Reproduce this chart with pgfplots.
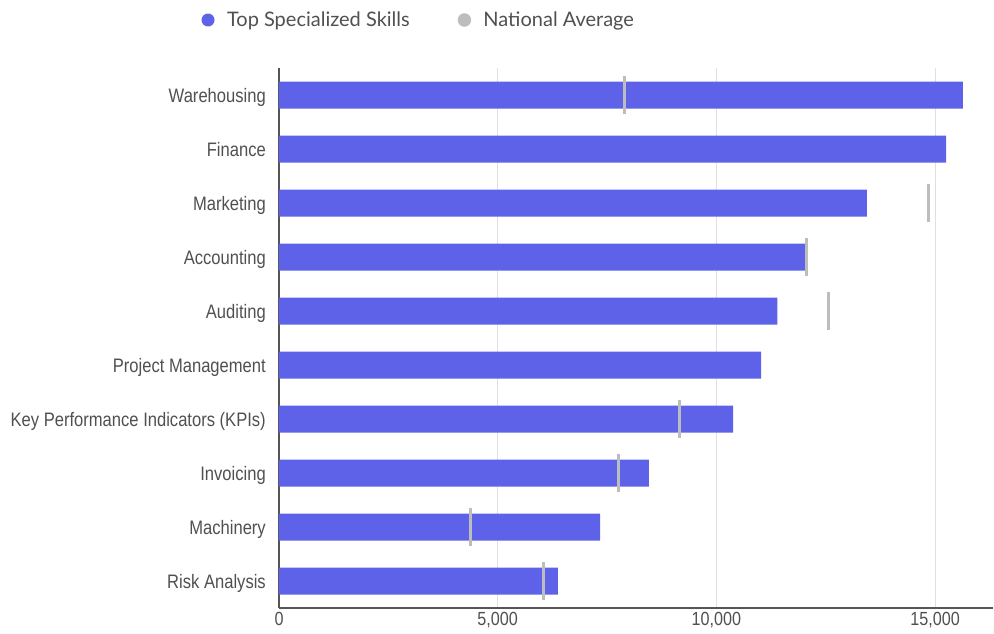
\documentclass[border=0pt]{standalone}
\usepackage{fontspec}
\setmainfont{Liberation Sans}
\newfontfamily\labfont[FakeStretch=0.85]{Liberation Sans}
\newfontfamily\latofont{Lato}
\usepackage{pgfplots}
\pgfplotsset{compat=1.18}
\definecolor{barblue}{HTML}{5D62E8}
\definecolor{nagray}{HTML}{BDBDBD}
\definecolor{labgray}{HTML}{505050}
\definecolor{gridgray}{HTML}{E0E0E0}
\definecolor{axisgray}{HTML}{555555}
\begin{document}
\begin{tikzpicture}
\useasboundingbox (-279pt,-25pt) rectangle (715pt,608pt);
\begin{axis}[
  at={(0pt,0pt)}, anchor=south west,
  scale only axis,
  width=714pt, height=540pt,
  xmin=0, xmax=16324,
  ymin=-0.5, ymax=9.5,
  ytick={0,...,9},
  yticklabels={Risk Analysis,Machinery,Invoicing,Key Performance Indicators (KPIs),Project Management,Auditing,Accounting,Marketing,Finance,Warehousing},
  xtick={0,5000,10000,15000},
  xticklabels={0,{5,000},{10,000},{15,000}},
  axis x line*=bottom,
  axis y line*=left,
  x axis line style={draw=axisgray, line width=2pt, -},
  y axis line style={draw=axisgray, line width=1.2pt, -},
  major tick length=0pt,
  xmajorgrids, grid style={gridgray, line width=0.8pt},
  tick label style={font=\labfont\fontsize{19.5}{21}\selectfont, text=labgray, inner sep=0pt},
  xticklabel style={font=\labfont\fontsize{19}{21}\selectfont, yshift=-4pt},
  yticklabel style={anchor=base east, xshift=-13pt, yshift=-7.5pt},
  legend style={draw=none, fill=none, inner sep=0pt, outer sep=0pt,
    at={(axis description cs:-0.1085,1.0889)}, anchor=west,
    legend columns=2, font=\latofont\fontsize{20}{22}\selectfont, text=labgray,
    nodes={inner sep=0pt},
    /tikz/every odd column/.append style={column sep=0pt},
    /tikz/every even column/.append style={column sep=48pt}},
  legend cell align=left,
]
\addplot[xbar, bar width=27pt, fill=barblue, draw=none,
  legend image code/.code={\fill[barblue] (6.5pt,0pt) circle (6.5pt); \path[draw=none,fill=none] (0pt,-6.5pt) rectangle (25.5pt,6.5pt);}]
  coordinates {
  (15638,9) (15250,8) (13443,7) (12025,6) (11397,5)
  (11020,4) (10380,3) (8459,2) (7339,1) (6378,0)
  };
\addlegendentry{Top Specialized Skills}
\addplot[only marks, mark=|, mark size=19pt, mark options={line width=3pt, draw=nagray},
  legend image code/.code={\fill[nagray] (6.5pt,0pt) circle (6.5pt); \path[draw=none,fill=none] (0pt,-6.5pt) rectangle (25.5pt,6.5pt);}]
  coordinates {
  (7910,9) (14838,7) (12071,6) (12552,5)
  (9168,3) (7773,2) (4367,1) (6047,0)
  };
\addlegendentry{National Average}
\end{axis}
\end{tikzpicture}
\end{document}
